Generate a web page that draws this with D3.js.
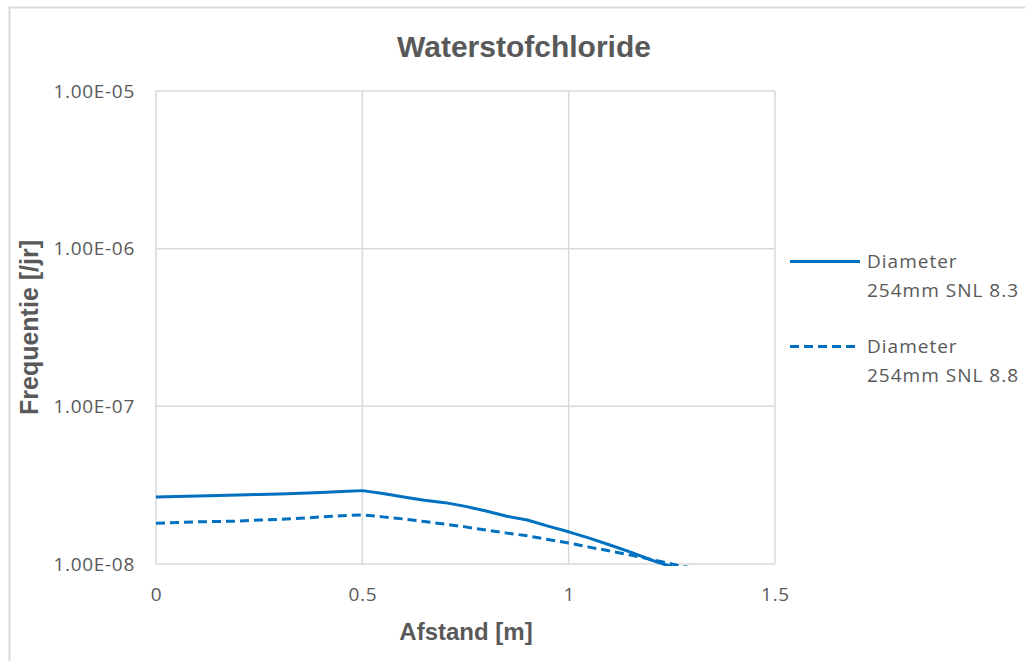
<!DOCTYPE html>
<html>
<head>
<meta charset="utf-8">
<script src="https://cdn.jsdelivr.net/npm/d3@7"></script>
<style>
  html, body { margin: 0; padding: 0; background: #fff; }
  svg { display: block; }
</style>
</head>
<body>
<svg id="chart" width="1025" height="661"></svg>
<script>
// Distance along the axis [m]
const distance = [0, 0.05, 0.1, 0.15, 0.2, 0.25, 0.3, 0.35, 0.4, 0.45, 0.5, 0.55, 0.6, 0.65,
                  0.7, 0.75, 0.8, 0.85, 0.9, 0.95, 1.0, 1.05, 1.1, 1.15, 1.2, 1.25, 1.3];
// Frequency [/jr] per scenario
const snl83 = [2.66e-8, 2.68e-8, 2.70e-8, 2.72e-8, 2.74e-8, 2.76e-8, 2.78e-8, 2.81e-8, 2.84e-8, 2.88e-8,
               2.92e-8, 2.80e-8, 2.66e-8, 2.54e-8, 2.45e-8, 2.32e-8, 2.17e-8, 2.01e-8, 1.90e-8, 1.74e-8,
               1.60e-8, 1.46e-8, 1.32e-8, 1.19e-8, 1.06e-8, 0.96e-8, 0.88e-8];
const snl88 = [1.81e-8, 1.83e-8, 1.85e-8, 1.86e-8, 1.87e-8, 1.90e-8, 1.92e-8, 1.95e-8, 1.99e-8, 2.02e-8,
               2.05e-8, 1.99e-8, 1.93e-8, 1.86e-8, 1.79e-8, 1.72e-8, 1.64e-8, 1.57e-8, 1.51e-8, 1.43e-8,
               1.36e-8, 1.28e-8, 1.21e-8, 1.14e-8, 1.07e-8, 1.00e-8, 0.94e-8];
const seriesNames = [["Diameter", "254mm SNL 8.3"], ["Diameter", "254mm SNL 8.8"]];
const xTicks = [0, 0.5, 1, 1.5];
const yTicks = [1e-8, 1e-7, 1e-6, 1e-5];
const yTickLabels = ["1.00E-08", "1.00E-07", "1.00E-06", "1.00E-05"];

const svg = d3.select("#chart");
const plot = { left: 156, right: 775, top: 91, bottom: 564 };
const textColor = "#595959";
const gridColor = "#d9d9d9";
const lineColor = "#0070c0";
const labelFont = "'Open Sans', 'Noto Sans', sans-serif";
const titleFont = "'Liberation Sans', Arial, sans-serif";

// outer frame
svg.append("path")
  .attr("d", `M9.5,661 V7.5 H1025`)
  .attr("fill", "none").attr("stroke", gridColor).attr("stroke-width", 2);

const x = d3.scaleLinear().domain([0, 1.5]).range([plot.left, plot.right]);
const y = d3.scaleLog().domain([1e-8, 1e-5]).range([plot.bottom, plot.top]);

// gridlines
svg.append("g").selectAll("line").data(xTicks).join("line")
  .attr("x1", d => x(d)).attr("x2", d => x(d))
  .attr("y1", plot.top).attr("y2", plot.bottom)
  .attr("stroke", gridColor).attr("stroke-width", 1.5);
svg.append("g").selectAll("line").data(yTicks).join("line")
  .attr("x1", plot.left).attr("x2", plot.right)
  .attr("y1", d => y(d)).attr("y2", d => y(d))
  .attr("stroke", gridColor).attr("stroke-width", 1.5);

// axes (labels only)
const xAxis = svg.append("g").attr("transform", `translate(0,${plot.bottom})`)
  .call(d3.axisBottom(x).tickValues(xTicks).tickSize(0).tickPadding(24).tickFormat(d3.format("")));
const yAxis = svg.append("g").attr("transform", `translate(${plot.left},0)`)
  .call(d3.axisLeft(y).tickValues(yTicks).tickSize(0).tickPadding(21)
    .tickFormat((d, i) => yTickLabels[i]));
[xAxis, yAxis].forEach(a => {
  a.select(".domain").remove();
  a.selectAll("text").attr("fill", textColor)
    .style("font-family", labelFont).style("font-size", "19px")
    .style("letter-spacing", "0.7px");
});

// clip lines to the plot area (a little slack at the bottom)
svg.append("clipPath").attr("id", "plotClip").append("rect")
  .attr("x", plot.left).attr("y", plot.top)
  .attr("width", plot.right - plot.left).attr("height", plot.bottom - plot.top + 2);

const line = d3.line().x(d => x(d[0])).y(d => y(d[1])).curve(d3.curveLinear);
const series = [
  { values: snl83, dash: null },
  { values: snl88, dash: "9,5" }
];
const lines = svg.append("g").attr("clip-path", "url(#plotClip)");
series.forEach(s => {
  lines.append("path")
    .datum(distance.map((d, i) => [d, s.values[i]]))
    .attr("d", line)
    .attr("fill", "none")
    .attr("stroke", lineColor)
    .attr("stroke-width", 3)
    .attr("stroke-linejoin", "round")
    .attr("stroke-dasharray", s.dash);
});

// title
svg.append("text")
  .attr("x", 524).attr("y", 57)
  .attr("text-anchor", "middle")
  .attr("fill", textColor)
  .style("font-family", titleFont)
  .style("font-weight", "bold").style("font-size", "30px")
  .text("Waterstofchloride");

// axis titles
svg.append("text")
  .attr("x", 466).attr("y", 640)
  .attr("text-anchor", "middle").attr("fill", textColor)
  .style("font-family", titleFont)
  .style("font-weight", "bold").style("font-size", "24px")
  .text("Afstand [m]");
svg.append("text")
  .attr("transform", `translate(38,${(plot.top + plot.bottom) / 2}) rotate(-90)`)
  .attr("text-anchor", "middle").attr("fill", textColor)
  .style("font-family", titleFont)
  .style("font-weight", "bold").style("font-size", "25px")
  .text("Frequentie [/jr]");

// legend
const legendY = [261.5, 346.5];
series.forEach((s, i) => {
  const g = svg.append("g");
  g.append("line")
    .attr("x1", 790).attr("x2", 860)
    .attr("y1", legendY[i]).attr("y2", legendY[i])
    .attr("stroke", lineColor).attr("stroke-width", 3)
    .attr("stroke-dasharray", s.dash);
  const t = g.append("text")
    .attr("fill", textColor)
    .style("font-family", labelFont).style("font-size", "19px")
    .style("letter-spacing", "1px");
  seriesNames[i].forEach((txt, j) => {
    t.append("tspan").attr("x", 867).attr("y", legendY[i] + 6.5 + j * 28.5).text(txt);
  });
});
</script>
</body>
</html>
